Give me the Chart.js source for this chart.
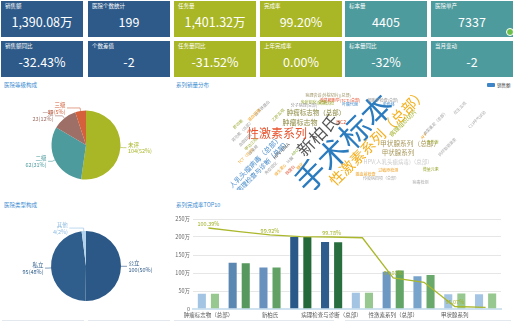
<!DOCTYPE html>
<html><head><meta charset="utf-8">
<script src="https://cdn.jsdelivr.net/npm/chart.js@4.4.0/dist/chart.umd.min.js"></script>
<style>
body{margin:0;width:513px;height:322px;overflow:hidden;background:#fff;font-family:"Noto Sans CJK SC",sans-serif;position:relative}
.tile{position:absolute;width:82px;height:36px;color:#fff;box-sizing:border-box}
.tile .t{position:absolute;left:4px;top:2px;font-size:5.5px;line-height:7px;white-space:nowrap}
.tile .v{position:absolute;left:0;right:0;top:10px;text-align:center;font-size:12.5px;line-height:22px;font-family:"Noto Sans CJK SC",sans-serif}
.title{position:absolute;font-size:5.5px;color:#3b8bd0;white-space:nowrap;line-height:7px}
canvas{position:absolute}
.sep{position:absolute;height:1px;background:#e3e8ee;top:320px}
</style></head><body>
<div id="tiles"></div>
<div class="title" style="left:4px;top:82px">医院等级构成</div>
<div class="title" style="left:4px;top:202px">医院类型构成</div>
<div class="title" style="left:176px;top:82px">系列销量分布</div>
<div class="title" style="left:176px;top:202px">系列完成率TOP10</div>
<div style="position:absolute;left:487px;top:83px;width:8px;height:4px;border-radius:1px;background:#3d85c6"></div>
<div style="position:absolute;left:497px;top:82px;font-size:4.5px;line-height:6px;color:#444;white-space:nowrap">销售额</div>
<div style="position:absolute;left:506px;top:28px;width:8px;height:8px;border-radius:50%;background:#6cc04a;border:1px solid #fff;box-sizing:border-box"></div>
<div class="sep" style="left:2px;width:82px"></div>
<div class="sep" style="left:88px;width:82px"></div>
<div class="sep" style="left:174px;width:160px"></div>
<div class="sep" style="left:345px;width:166px"></div>
<canvas id="pie1" width="172" height="110" style="left:0;top:80px"></canvas>
<canvas id="pie2" width="172" height="120" style="left:0;top:200px"></canvas>
<canvas id="cloud" width="343" height="110" style="left:170px;top:80px"></canvas>
<canvas id="bar" width="353" height="112" style="left:160px;top:210px"></canvas>
<script>
// ---------- DATA ----------
const kpiTitles = ['销售额','医院个数统计','任务量','完成率','标本量','医院单产','销售额同比','个数差值','任务量同比','上年完成率','标本量同比','当月变动'];
const kpiValues = ['1,390.08万','199','1,401.32万','99.20%','4405','7337','-32.43%','-2','-31.52%','0.00%','-32%','-2'];

const levelLabels = ['未评','二级','一级','三级'];
const levelValues = [104, 62, 23, 10];

const typeLabels = ['公立','私立','其他'];
const typeValues = [100, 95, 4];

const cloudWords = ['手术标本','性激素系列（总部）','新柏氏','性激素系列','肿瘤标志物（总部）','肿瘤标志物','甲状腺系列（总部）','甲状腺系列','HPV(人乳头瘤病毒)（总部）','人乳头瘤病毒（总部）','病理检查与诊断（总部）','HPV-DNA','病理组织切片','HC2',
 '血清铁蛋白','凝血四项','乙肝五项','肝功能','肾功能（总部）','血脂四项','甲功三项','TCT（总部）','血常规','ABO','叶酸','维生素D','铁蛋白','糖化','免疫组化',
 '病理会诊(外院切片)(总部)','液基细胞学(TCT)(总部)','免疫组化(总部)','分子病理(总部)','细胞学检查(总部)','染色体','宫颈活检','叶酸代谢',
 'AFP','血型鉴定（总部）','抗缪勒管激素','优生五项','C13呼气试验','骨代谢','过敏原检测','传染病四项（总部）','微量元素','病毒检测','输血前检查'];
const cloudWeights = [31,14.5,17,12,6.5,7,6.7,6.5,5.5,7,6.5,5,6,5,
 4,4,4,4,4,4,4,4,4,4,4,4,4,4,4,
 4,4,4,4,4,4,4,4,
 4,4,4,4,4,4,4,4,4,4,4];

const categories = ['肿瘤标志物（总部）','肿瘤标志物','新柏氏','新柏氏（总部）','病理检查与诊断（总部）','病理检查与诊断','性激素系列（总部）','性激素系列','甲状腺系列','甲状腺系列（总部）'];
const salesValues = [45, 131, 118, 203, 189, 48, 106, 94, 44, 44];
const taskValues  = [45, 130, 118, 203, 188, 48, 110, 97, 46, 46];
const rateValues  = [100.39, 100.15, 99.92, 99.81, 99.78, 99.73, 97.01, 96.71, 95.07, 95.01];
const yTicks = [0, 50, 100, 150, 200, 250];

// ---------- STYLE / LAYOUT ----------
const kpiColors = ['#2d5a89','#2d5a89','#a9b625','#a9b625','#4e9b9d','#4e9b9d'];
const colLeft = [1,88,174,260,345,431];
const rowTop = [1,41];
const FONT = '"Noto Sans CJK SC", sans-serif';

const tilesEl = document.getElementById('tiles');
kpiTitles.forEach((t,i)=>{
  const d=document.createElement('div'); d.className='tile';
  d.style.left=colLeft[i%6]+'px'; d.style.top=rowTop[Math.floor(i/6)]+'px';
  d.style.background=kpiColors[i%6];
  d.innerHTML='<div class="t">'+t+'</div><div class="v">'+kpiValues[i]+'</div>';
  tilesEl.appendChild(d);
});

const levelColors = ['#a9b625','#4e9b9d','#9e6f66','#d4613c'];
const typeColors = ['#2b5886','#2f5d8c','#b3d3ec'];
const typeLabelColors = ['#2b5886','#2f5d8c','#8fbde2'];

const pieLabelPlugin = {
  id:'pieLabels',
  afterDatasetsDraw(chart){
    const ctx=chart.ctx, ds=chart.data.datasets[0], meta=chart.getDatasetMeta(0);
    const total=ds.data.reduce((a,b)=>a+b,0);
    const lc=chart.options.plugins.pieLabels.colors;
    meta.data.forEach((arc,i)=>{
      const p=arc.getProps(['x','y','startAngle','endAngle','outerRadius'],true);
      const a=(p.startAngle+p.endAngle)/2, c=Math.cos(a), s=Math.sin(a), r=p.outerRadius;
      const x0=p.x+c*r, y0=p.y+s*r, x1=p.x+c*(r+3), y1=p.y+s*(r+3);
      const dir=c>=0?1:-1, l2=3+12*(1-Math.abs(c));
      const x2=x1+dir*l2;
      ctx.save();
      ctx.strokeStyle=lc[i]; ctx.lineWidth=0.6;
      ctx.beginPath(); ctx.moveTo(x0,y0); ctx.lineTo(x1,y1); ctx.lineTo(x2,y1); ctx.stroke();
      ctx.fillStyle=lc[i]; ctx.font='5.5px '+FONT; ctx.textAlign=dir>0?'left':'right'; ctx.textBaseline='middle';
      const tx=x2+dir*1.5;
      ctx.fillText(chart.data.labels[i],tx,y1-3);
      ctx.fillText(ds.data[i]+'('+Math.round(ds.data[i]/total*100)+'%)',tx,y1+3.5);
      ctx.restore();
    });
  }
};

function pieChart(id, labels, values, colors, labelColors, pad){
  return new Chart(document.getElementById(id),{
    type:'pie',
    data:{labels:labels,datasets:[{data:values,backgroundColor:colors,borderWidth:0,hoverOffset:0}]},
    options:{responsive:false,animation:false,layout:{padding:pad},
      plugins:{legend:{display:false},tooltip:{enabled:false},pieLabels:{colors:labelColors}}},
    plugins:[pieLabelPlugin]
  });
}
pieChart('pie1',levelLabels,levelValues,levelColors,levelColors,{left:51.5,right:51.5,top:30.5,bottom:10.5});
pieChart('pie2',typeLabels,typeValues,typeColors,typeLabelColors,{left:51,right:51,top:31,bottom:19});

// word-cloud layout (0-100 box): x, y, rotation
const cloudLayout = [
 {x:50.6,y:57,r:-45},{x:60.6,y:51.5,r:-45},{x:43.1,y:50,r:-45},{x:31.2,y:48.2,r:0},{x:42.6,y:30,r:0},{x:37.9,y:38.2,r:0},
 {x:70,y:57.3,r:0},{x:66.5,y:65.5,r:0},{x:66.5,y:74.5,r:0},{x:24.8,y:74.5,r:-45},{x:27,y:78.5,r:-45},{x:32.4,y:64.5,r:-45},{x:67.9,y:39.1,r:-45},{x:49.9,y:38.2,r:0},
 {x:26.8,y:25.5,r:-45},{x:24.5,y:31.8,r:-45},{x:31.5,y:31.8,r:-45},{x:19.8,y:40,r:-45},{x:21,y:46.4,r:-45},{x:21.9,y:54.5,r:-45},{x:23.6,y:58.2,r:-45},{x:22.4,y:68.2,r:-45},{x:24.2,y:63.6,r:-45},{x:36.4,y:65.5,r:-45},{x:35,y:72.7,r:-45},{x:32.1,y:81.8,r:-45},{x:35,y:81.8,r:-45},{x:37.9,y:78.2,r:-45},{x:29.4,y:80,r:-45},
 {x:46.1,y:14.5,r:0},{x:49.6,y:18.2,r:0},{x:42,y:20.4,r:0},{x:39.1,y:23.6,r:0},{x:62.1,y:18.2,r:0},{x:63.8,y:22.7,r:0},{x:45.5,y:21.8,r:0},{x:52.5,y:22.5,r:0},
 {x:74,y:50.9,r:-45},{x:77.3,y:39,r:-45},{x:80.8,y:60.9,r:-45},{x:84.5,y:25.5,r:-45},{x:89.5,y:36,r:-45},{x:76.5,y:56.8,r:0},{x:63.6,y:82.7,r:0},{x:61.5,y:89.1,r:0},{x:76,y:81.8,r:0},{x:73,y:93.6,r:0},{x:57,y:86,r:0}
];
const cloudColors = ['#2b7bbf','#f4b01e','#555555','#e8532e','#8d8a40','#8d8a40','#a8985a','#a8985a','#cccccc','#4d8fcc','#3f86c6','#666666','#a4b22a','#e05030',
 '#999','#f0a020','#9aa830','#9aa830','#999','#999','#9aa830','#f0a020','#999','#88b040','#999','#f0a020','#e05a3a','#f0a020','#999',
 '#9a9060','#e8502e','#98a830','#999','#999','#3d85c6','#98a830','#3d85c6',
 '#f0a020','#999','#aaa','#aaa','#aaa','#9aa830','#f0a020','#aaa','#9aa830','#aaa','#f0a020'];

const cloudPlugin = {
  id:'cloudWords',
  afterDatasetsDraw(chart){
    const ctx=chart.ctx, xs=chart.scales.x, ys=chart.scales.y;
    chart.data.datasets[0].data.forEach((pt,i)=>{
      const px=xs.getPixelForValue(pt.x), py=ys.getPixelForValue(pt.y);
      ctx.save(); ctx.translate(px,py); ctx.rotate(cloudLayout[i].r*Math.PI/180);
      ctx.font=cloudWeights[i]+'px '+FONT; ctx.fillStyle=cloudColors[i];
      ctx.textAlign='center'; ctx.textBaseline='middle';
      ctx.fillText(cloudWords[i],0,0); ctx.restore();
    });
  }
};
new Chart(document.getElementById('cloud'),{
  type:'scatter',
  data:{datasets:[{data:cloudWords.map((w,i)=>({x:cloudLayout[i].x,y:cloudLayout[i].y})),pointRadius:0}]},
  options:{responsive:false,animation:false,layout:{padding:0},
    scales:{x:{display:false,min:0,max:100},y:{display:false,min:0,max:100,reverse:true}},
    plugins:{legend:{display:false},tooltip:{enabled:false}}},
  plugins:[cloudPlugin]
});

// bar + line
const blueColors = ['#a3c5e3','#5b87b3','#6892bd','#2a5888','#2d5c8d','#a3c5e3','#6d98c2','#78a3cb','#a3c5e3','#a3c5e3'];
const greenColors = ['#96c88f','#57985e','#61a166','#24693a','#286e3e','#96c88f','#62a567','#69aa6c','#96c88f','#96c88f'];
const rateLabelPlugin = {
  id:'rateLabels',
  afterDatasetsDraw(chart){
    const ctx=chart.ctx, meta=chart.getDatasetMeta(0);
    ctx.save(); ctx.font='5.5px '+FONT; ctx.fillStyle='#a2b024'; ctx.textAlign='center'; ctx.textBaseline='middle';
    meta.data.forEach((pt,i)=>{ if(i%2===0) ctx.fillText(rateValues[i].toFixed(2)+'%',pt.x,pt.y-4.5); });
    ctx.restore();
  }
};
new Chart(document.getElementById('bar'),{
  type:'bar',
  data:{labels:categories,datasets:[
    {type:'line',data:rateValues,yAxisID:'y1',borderColor:'#abb82c',borderWidth:1.3,pointRadius:0,tension:0,order:0},
    {data:salesValues,backgroundColor:blueColors,borderColor:'rgba(255,255,255,0.35)',borderWidth:1,barPercentage:0.77,categoryPercentage:0.85,order:1},
    {data:taskValues,backgroundColor:greenColors,borderColor:'rgba(255,255,255,0.35)',borderWidth:1,barPercentage:0.77,categoryPercentage:0.85,order:1}
  ]},
  options:{responsive:false,animation:false,layout:{padding:{top:9,right:12,left:0,bottom:0}},
    scales:{
      x:{grid:{display:false,drawTicks:false},border:{color:'#cfe2f0',width:2},
         ticks:{autoSkip:false,maxRotation:0,padding:3,color:'#555',font:{size:5.5,family:FONT},callback:(v,i)=>i%2===0?categories[i]:''},
         afterFit:s=>{s.height=13;}},
      y:{min:0,max:250,grid:{color:'#e6e6e6',drawTicks:false},border:{display:false},
         ticks:{stepSize:50,padding:3,color:'#666',font:{size:5.5,family:FONT},callback:v=>yTicks.includes(v)?(v===0?'0':v+'万'):''},
         afterFit:s=>{s.width=33;}},
      y1:{display:false,min:94.9,max:101}
    },
    plugins:{legend:{display:false},tooltip:{enabled:false}}},
  plugins:[rateLabelPlugin]
});
</script>
</body></html>
